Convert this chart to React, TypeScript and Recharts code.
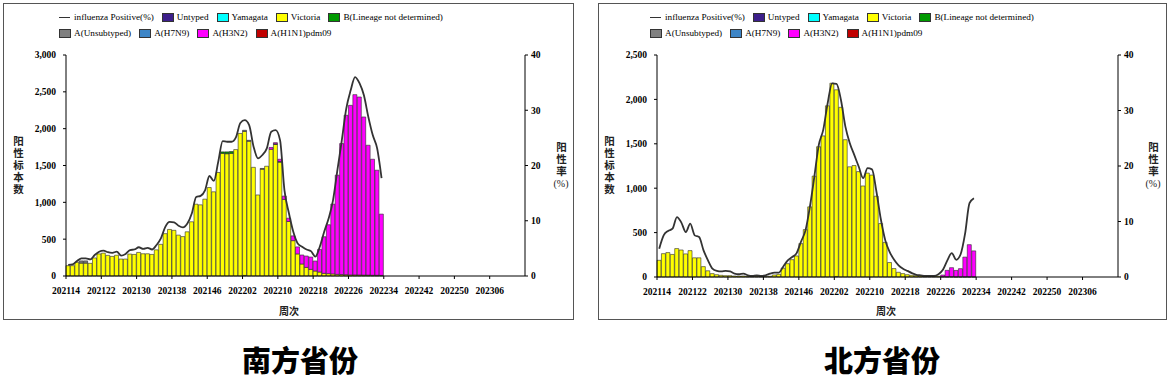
import { ComposedChart, Bar, Line, XAxis, YAxis } from "recharts";

const FONT_SERIF = '"Liberation Serif", "Times New Roman", serif';
const FONT_CJK = '"Noto Sans CJK SC", "Noto Sans", sans-serif';

// week codes 202114 .. 202313 (2021 and 2022 both have 52 weeks)
const weeks: string[] = [];
for (let i = 0; i < 104; i++) {
  let y = 2021;
  let w = 14 + i;
  while (w > 52) {
    w -= 52;
    y += 1;
  }
  weeks.push(`${y}${String(w).padStart(2, "0")}`);
}

const tickWeeks = [
  "202114", "202122", "202130", "202138", "202146", "202202", "202210",
  "202218", "202226", "202234", "202242", "202250", "202306",
];

const southCountTicks = [0, 500, 1000, 1500, 2000, 2500, 3000];
const northCountTicks = [0, 500, 1000, 1500, 2000, 2500];
const rateTicks = [0, 10, 20, 30, 40];

// 南方省份, weeks 202114..202233
const southVictoria = [
  140, 140, 185, 175, 175, 172, 245, 300, 310, 280,
  266, 282, 230, 230, 298, 293, 320, 302, 302, 293,
  355, 430, 575, 632, 620, 555, 535, 600, 736, 975,
  966, 1043, 1201, 1143, 1405, 1665, 1660, 1665, 1716, 1935,
  1955, 1830, 1475, 1100, 1450, 1490, 1720, 1785, 1545, 1040,
  740, 480, 300, 163, 117, 90, 68, 54, 36, 32,
  28, 22, 20, 18, 15, 15, 14, 12, 12, 10,
  10, 8,
];
const southH3N2 = [
  0, 0, 0, 0, 0, 0, 0, 0, 0, 0,
  0, 0, 0, 0, 0, 0, 0, 0, 0, 0,
  0, 0, 0, 0, 0, 0, 0, 0, 0, 0,
  0, 0, 0, 0, 0, 0, 0, 0, 0, 0,
  0, 0, 0, 0, 0, 0, 25, 15, 30, 45,
  45, 65, 95, 122, 154, 167, 135, 307, 497, 664,
  948, 1347, 1778, 2164, 2302, 2447, 2416, 2147, 1763, 1575,
  1426, 832,
];
const southPositive = [
  2.0, 2.1, 2.7, 3.2, 3.2, 3.0, 3.8, 4.4, 4.6, 4.3,
  4.2, 4.4, 3.7, 4.0, 4.7, 4.8, 5.2, 4.9, 5.1, 4.8,
  5.6, 6.8, 8.9, 9.8, 9.7, 9.1, 8.8, 9.5, 11.3, 14.3,
  14.5, 15.5, 18.1, 17.2, 20.7, 24.4, 24.3, 24.3, 25.1, 27.7,
  28.2, 27.3, 23.4, 21.3, 21.9, 23.1, 26.1, 26.4, 24.6, 15.5,
  11.4, 8.0, 5.9, 5.3, 4.8, 4.5, 3.5, 5.3, 8.0, 10.4,
  13.7, 19.2, 24.6, 30.3, 33.6, 36.0, 34.9, 32.7, 28.8, 25.5,
  23.1, 17.7,
];
const southUnsubtyped: [string, number][] = [
  ["202117", 30], ["202118", 30], ["202202", 15], ["202203", 12],
  ["202206", 10], ["202209", 10], ["202210", 10],
];
const southLineageNd: [string, number][] = [
  ["202149", 20], ["202150", 25], ["202151", 25],
];
const southYamagata: [string, number][] = [["202202", 8]];

// 北方省份, weeks 202114..202233
const northVictoria = [
  188, 263, 275, 254, 320, 304, 260, 297, 216, 216,
  117, 70, 38, 26, 19, 15, 15, 11, 11, 11,
  8, 6, 6, 5, 5, 8, 23, 30, 100, 150,
  195, 237, 376, 534, 790, 1136, 1467, 1589, 1928, 2182,
  2102, 1911, 1546, 1241, 1255, 1187, 1025, 1170, 1148, 910,
  602, 390, 163, 95, 53, 38, 26, 19, 15, 11,
  8, 6, 6, 8, 4, 3, 3, 2, 2, 2,
  2, 2,
];
const northH3N2 = [
  0, 0, 0, 0, 0, 0, 0, 0, 0, 0,
  0, 0, 0, 0, 0, 0, 0, 0, 0, 0,
  0, 0, 0, 0, 0, 0, 0, 0, 0, 0,
  0, 0, 0, 0, 0, 0, 0, 0, 0, 0,
  0, 0, 0, 0, 0, 0, 0, 0, 0, 0,
  0, 0, 0, 0, 0, 0, 0, 0, 0, 0,
  0, 0, 0, 0, 18, 72, 102, 72, 92, 222,
  362, 292,
];
const northPositive = [
  5.1, 7.5, 8.3, 8.7, 10.8, 9.8, 8.1, 9.6, 7.5, 7.2,
  4.8, 3.0, 1.5, 1.1, 1.0, 1.1, 1.0, 0.6, 0.5, 0.6,
  0.3, 0.2, 0.3, 0.2, 0.3, 0.6, 0.8, 0.8, 1.9, 3.0,
  3.6, 4.3, 6.4, 8.4, 12.7, 18.1, 23.8, 26.5, 31.3, 34.9,
  34.8, 31.9, 27.1, 24.1, 22.0, 19.9, 17.8, 19.6, 19.4, 15.4,
  10.4, 6.6, 4.5, 3.1, 2.1, 1.5, 1.1, 0.7, 0.4, 0.3,
  0.2, 0.2, 0.2, 0.5, 1.3, 3.0, 4.3, 3.1, 4.1, 7.8,
  13.3, 14.2,
];
const northUntyped: [string, number][] = [["202202", 6]];

// stacking order = legend order (first one at the bottom)
const typeSeries = [
  { key: "untyped", name: "Untyped", color: "#3d1f8b" },
  { key: "yamagata", name: "Yamagata", color: "#00ffff" },
  { key: "victoria", name: "Victoria", color: "#ffff00" },
  { key: "bnd", name: "B(Lineage not determined)", color: "#009a00" },
  { key: "aunsub", name: "A(Unsubtyped)", color: "#808080" },
  { key: "h7n9", name: "A(H7N9)", color: "#3d85c6" },
  { key: "h3n2", name: "A(H3N2)", color: "#ff00ff" },
  { key: "h1n1", name: "A(H1N1)pdm09", color: "#c00000" },
];

type Pairs = [string, number][];
const pick = (pairs: Pairs | undefined, week: string) =>
  pairs?.find((p) => p[0] === week)?.[1] ?? 0;

function buildRows(src: {
  victoria: number[];
  h3n2: number[];
  positive: number[];
  untyped?: Pairs;
  yamagata?: Pairs;
  bnd?: Pairs;
  aunsub?: Pairs;
}) {
  return weeks.map((week, i) => {
    if (i >= src.victoria.length) return { week };
    return {
      week,
      untyped: pick(src.untyped, week),
      yamagata: pick(src.yamagata, week),
      victoria: src.victoria[i],
      bnd: pick(src.bnd, week),
      aunsub: pick(src.aunsub, week),
      h7n9: 0,
      h3n2: src.h3n2[i],
      h1n1: 0,
      pct: src.positive[i],
    };
  });
}

const southRows = buildRows({
  victoria: southVictoria,
  h3n2: southH3N2,
  positive: southPositive,
  yamagata: southYamagata,
  bnd: southLineageNd,
  aunsub: southUnsubtyped,
});
const northRows = buildRows({
  victoria: northVictoria,
  h3n2: northH3N2,
  positive: northPositive,
  untyped: northUntyped,
});

function WeekTick(props: any) {
  const { x, y, payload, band } = props;
  const lx = x - band / 2;
  return (
    <g>
      <line x1={lx} x2={lx} y1={y} y2={y + 3} stroke="#000" />
      <text
        x={lx}
        y={y + 18}
        textAnchor="middle"
        fontFamily={FONT_SERIF}
        fontWeight={700}
        fontSize={9.5}
        fill="#000"
      >
        {payload.value}
      </text>
    </g>
  );
}

function LegendItem({ name, color, line }: { name: string; color?: string; line?: boolean }) {
  return (
    <div style={{ display: "flex", alignItems: "center", marginRight: 8 }}>
      {line ? (
        <div style={{ width: 11, height: 0, borderTop: "1.5px solid #333", marginRight: 4 }} />
      ) : (
        <div
          style={{
            width: 10,
            height: 7,
            background: color,
            border: "1px solid #333",
            marginRight: 3,
          }}
        />
      )}
      <span>{name}</span>
    </div>
  );
}

function ChartLegend({ left }: { left: number }) {
  const rowStyle: React.CSSProperties = {
    position: "absolute",
    left,
    height: 12,
    display: "flex",
    alignItems: "center",
    fontFamily: FONT_SERIF,
    fontSize: 9.2,
    color: "#000",
    whiteSpace: "nowrap",
  };
  return (
    <>
      <div style={{ ...rowStyle, top: 7 }}>
        <LegendItem name="influenza Positive(%)" line />
        {typeSeries.slice(0, 4).map((s) => (
          <LegendItem key={s.key} name={s.name} color={s.color} />
        ))}
      </div>
      <div style={{ ...rowStyle, top: 23 }}>
        {typeSeries.slice(4).map((s) => (
          <LegendItem key={s.key} name={s.name} color={s.color} />
        ))}
      </div>
    </>
  );
}

// vertical axis title: CJK characters stacked top to bottom, optional "(%)" below
function VerticalTitle({ text, suffix, x, top }: { text: string; suffix?: string; x: number; top: number }) {
  return (
    <div
      style={{
        position: "absolute",
        left: x - 15,
        top,
        width: 30,
        display: "flex",
        flexDirection: "column",
        alignItems: "center",
        color: "#222",
      }}
    >
      <div
        style={{
          writingMode: "vertical-rl",
          fontFamily: FONT_CJK,
          fontWeight: 700,
          fontSize: 10.5,
          letterSpacing: 1.5,
          lineHeight: "14px",
        }}
      >
        {text}
      </div>
      {suffix && (
        <div style={{ fontFamily: FONT_SERIF, fontSize: 10, lineHeight: "12px", marginTop: 0 }}>
          {suffix}
        </div>
      )}
    </div>
  );
}

interface PanelProps {
  left: number;
  top: number;
  width: number;
  height: number;
  plotLeft: number;
  plotRight: number;
  plotTop: number;
  plotBottom: number;
  rows: any[];
  countMax: number;
  countTicks: number[];
  legendLeft: number;
  leftLabelX: number;
  rightLabelX: number;
  weekLabelX: number;
}

function FluPanel(p: PanelProps) {
  const innerW = p.width - 2;
  const innerH = p.height - 2;
  const band = (innerW - p.plotLeft - p.plotRight) / weeks.length;
  const axisTick = { fontFamily: FONT_SERIF, fontWeight: 700, fontSize: 9.5, fill: "#000" };

  return (
    <div
      style={{
        position: "absolute",
        left: p.left,
        top: p.top,
        width: p.width,
        height: p.height,
        boxSizing: "border-box",
        border: "1px solid #555",
        background: "#fff",
      }}
    >
      <ComposedChart
        width={innerW}
        height={innerH}
        data={p.rows}
        margin={{ top: p.plotTop, right: 0, bottom: 0, left: 0 }}
        barCategoryGap={0}
        barGap={0}
      >
        <XAxis
          dataKey="week"
          interval={0}
          ticks={tickWeeks}
          tickLine={false}
          tickSize={0}
          tickMargin={0}
          height={innerH - p.plotBottom}
          axisLine={{ stroke: "#000" }}
          tick={(tp: any) => <WeekTick {...tp} band={band} />}
        />
        <YAxis
          yAxisId="count"
          width={p.plotLeft}
          domain={[0, p.countMax]}
          ticks={p.countTicks}
          interval={0}
          tickFormatter={(v: number) => v.toLocaleString("en-US")}
          tickSize={3}
          tickMargin={7}
          axisLine={{ stroke: "#000" }}
          tickLine={{ stroke: "#000" }}
          tick={axisTick}
        />
        <YAxis
          yAxisId="rate"
          orientation="right"
          width={p.plotRight}
          domain={[0, 40]}
          ticks={rateTicks}
          interval={0}
          tickSize={3}
          tickMargin={3}
          axisLine={{ stroke: "#000" }}
          tickLine={{ stroke: "#000" }}
          tick={axisTick}
        />
        {typeSeries.map((s) => (
          <Bar
            key={s.key}
            yAxisId="count"
            dataKey={s.key}
            name={s.name}
            stackId="flu"
            fill={s.color}
            stroke="#2a2a2a"
            strokeWidth={0.6}
            isAnimationActive={false}
          />
        ))}
        <Line
          yAxisId="rate"
          dataKey="pct"
          name="influenza Positive(%)"
          type="monotone"
          stroke="#333"
          strokeWidth={1.8}
          dot={false}
          activeDot={false}
          isAnimationActive={false}
        />
      </ComposedChart>

      <ChartLegend left={p.legendLeft} />
      <VerticalTitle text="阳性标本数" x={p.leftLabelX} top={132} />
      <VerticalTitle text="阳性率" suffix="(%)" x={p.rightLabelX} top={138} />
      <div
        style={{
          position: "absolute",
          left: p.weekLabelX - 20,
          top: 299,
          width: 40,
          textAlign: "center",
          fontFamily: FONT_CJK,
          fontWeight: 700,
          fontSize: 10,
          color: "#222",
        }}
      >
        周次
      </div>
    </div>
  );
}

const titleStyle: React.CSSProperties = {
  position: "absolute",
  top: 338,
  width: 200,
  textAlign: "center",
  fontFamily: FONT_CJK,
  fontWeight: 900,
  fontSize: 29,
  color: "#000",
};

export default function App() {
  return (
    <div
      style={{
        position: "absolute",
        left: 0,
        top: 0,
        width: 1175,
        height: 381,
        background: "#fff",
        overflow: "hidden",
      }}
    >
      <FluPanel
        left={3}
        top={3}
        width={571}
        height={317}
        plotLeft={62}
        plotRight={48}
        plotTop={51}
        plotBottom={272}
        rows={southRows}
        countMax={3000}
        countTicks={southCountTicks}
        legendLeft={55}
        leftLabelX={14}
        rightLabelX={557}
        weekLabelX={285}
      />
      <FluPanel
        left={598}
        top={3}
        width={569}
        height={317}
        plotLeft={58}
        plotRight={48}
        plotTop={51}
        plotBottom={273}
        rows={northRows}
        countMax={2500}
        countTicks={northCountTicks}
        legendLeft={51}
        leftLabelX={10}
        rightLabelX={554}
        weekLabelX={287}
      />
      <div style={{ ...titleStyle, left: 200 }}>南方省份</div>
      <div style={{ ...titleStyle, left: 782 }}>北方省份</div>
    </div>
  );
}
